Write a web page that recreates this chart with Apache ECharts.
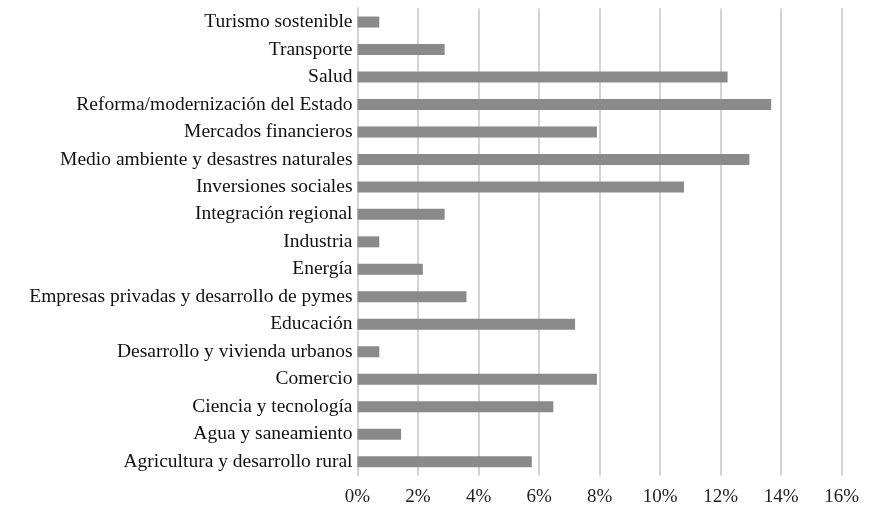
<!DOCTYPE html>
<html>
<head>
<meta charset="utf-8">
<script src="https://cdn.jsdelivr.net/npm/echarts@6/dist/echarts.min.js"></script>
<style>
  html, body { margin: 0; padding: 0; background: #fff; }
  #grafico { width: 885px; height: 512px; }
</style>
</head>
<body>
<div id="grafico"></div>
<script>
// categorias de abajo hacia arriba, como en el eje vertical
var categorias = [
  "Agricultura y desarrollo rural",
  "Agua y saneamiento",
  "Ciencia y tecnología",
  "Comercio",
  "Desarrollo y vivienda urbanos",
  "Educación",
  "Empresas privadas y desarrollo de pymes",
  "Energía",
  "Industria",
  "Integración regional",
  "Inversiones sociales",
  "Medio ambiente y desastres naturales",
  "Mercados financieros",
  "Reforma/modernización del Estado",
  "Salud",
  "Transporte",
  "Turismo sostenible"
];

// porcentaje de proyectos por sector
var porcentajes = [5.76, 1.44, 6.47, 7.91, 0.72, 7.19, 3.60, 2.16, 0.72, 2.88, 10.79, 12.95, 7.91, 13.67, 12.23, 2.88, 0.72];

var ejeMin = 0;
var ejeMax = 16;
var ejePaso = 2;

inicializarGrafico();

function inicializarGrafico() {
  var chartDom = document.getElementById("grafico");
  var myChart = echarts.init(chartDom);

  var fuente = "Liberation Serif";

  var option = {
    animation: false,
    grid: {
      left: 357.5,
      right: 43.3,
      top: 8.3,
      bottom: 36.6
    },
    xAxis: {
      type: "value",
      min: ejeMin,
      max: ejeMax,
      interval: ejePaso,
      axisLine: { show: false },
      axisTick: { show: false },
      axisLabel: {
        formatter: "{value}%",
        color: "#222",
        fontFamily: fuente,
        fontSize: 19,
        margin: 12
      },
      splitLine: {
        show: true,
        lineStyle: { color: "#d4d4d4", width: 2 }
      }
    },
    yAxis: {
      type: "category",
      data: categorias,
      axisLine: { show: true, lineStyle: { color: "#d4d4d4", width: 2 } },
      axisTick: { show: false },
      axisLabel: {
        color: "#111",
        fontFamily: fuente,
        fontSize: 19.5,
        margin: 5
      }
    },
    series: [
      {
        type: "bar",
        data: porcentajes,
        barWidth: 11,
        itemStyle: { color: "#8a8a8a" }
      }
    ]
  };

  option && myChart.setOption(option);
}
</script>
</body>
</html>
